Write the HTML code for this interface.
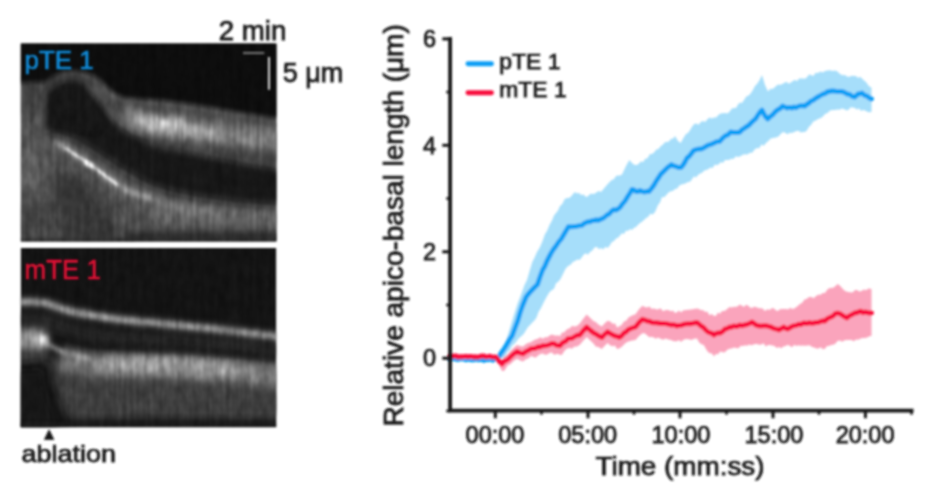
<!DOCTYPE html>
<html><head><meta charset="utf-8"><title>kymograph</title>
<style>html,body{margin:0;padding:0;background:#fff}svg{display:block}</style></head>
<body>
<svg width="948" height="486" viewBox="0 0 948 486" font-family="'Liberation Sans', sans-serif">
<defs>
<filter id="s" filterUnits="userSpaceOnUse" x="0" y="0" width="948" height="486"><feGaussianBlur stdDeviation="0.85"/></filter>
<filter id="s2" filterUnits="userSpaceOnUse" x="0" y="0" width="948" height="486"><feGaussianBlur stdDeviation="1.0"/></filter>
<filter id="b2" filterUnits="userSpaceOnUse" x="0" y="0" width="948" height="486"><feGaussianBlur stdDeviation="2"/></filter>
<filter id="b3" filterUnits="userSpaceOnUse" x="0" y="0" width="948" height="486"><feGaussianBlur stdDeviation="3"/></filter>
<filter id="b4" filterUnits="userSpaceOnUse" x="0" y="0" width="948" height="486"><feGaussianBlur stdDeviation="4"/></filter>
<filter id="b6" filterUnits="userSpaceOnUse" x="0" y="0" width="948" height="486"><feGaussianBlur stdDeviation="6"/></filter>
<filter id="b9" filterUnits="userSpaceOnUse" x="0" y="0" width="948" height="486"><feGaussianBlur stdDeviation="9"/></filter>
<filter id="edge" filterUnits="userSpaceOnUse" x="0" y="0" width="300" height="486" color-interpolation-filters="sRGB">
<feTurbulence type="fractalNoise" baseFrequency="0.3 0.015" numOctaves="2" seed="5" result="n"/>
<feColorMatrix in="n" type="matrix" values="1.6 0 0 0 -0.3  1.6 0 0 0 -0.3  1.6 0 0 0 -0.3  0 0 0 0 1" result="g"/>
<feComposite in="SourceGraphic" in2="g" operator="arithmetic" k1="0.3" k2="0.86" k3="0" k4="0" result="t"/>
<feTurbulence type="fractalNoise" baseFrequency="0.16 0.08" numOctaves="2" seed="11" result="n2"/>
<feColorMatrix in="n2" type="matrix" values="1.6 0 0 0 -0.3  1.6 0 0 0 -0.3  1.6 0 0 0 -0.3  0 0 0 0 1" result="g2"/>
<feComposite in="t" in2="g2" operator="arithmetic" k1="0.32" k2="0.85" k3="0" k4="0" result="tt"/>
<feComposite in="tt" in2="SourceGraphic" operator="in" result="t2"/>
<feGaussianBlur in="t2" stdDeviation="0.9"/></filter>
<clipPath id="c1"><rect x="20.7" y="43.4" width="255.8" height="198.2"/></clipPath>
<clipPath id="c2"><rect x="20.7" y="248" width="255.6" height="179.3"/></clipPath>
<linearGradient id="vstripe" x1="0" x2="1" y1="0" y2="0"></linearGradient>
</defs>
<rect width="948" height="486" fill="#fff"/>

<g filter="url(#edge)"><g clip-path="url(#c1)">
<rect x="20" y="43" width="258" height="200" fill="#505050"/>
<rect x="19" y="78" width="27" height="40" fill="#424242" filter="url(#b4)"/>
<rect x="19" y="150" width="27" height="36" fill="#5e5e5e" filter="url(#b6)"/>
<rect x="19" y="205" width="40" height="30" fill="#404040" filter="url(#b6)"/>
<path d="M52 172 L82 178 L112 212 L122 246 L62 246 Z" fill="#363636" filter="url(#b6)"/>
<path d="M150 212 L200 215 L290 220" stroke="#626262" stroke-width="19" fill="none" filter="url(#b4)"/>
<rect x="125" y="231.5" width="170" height="22" fill="#2a2a2a" filter="url(#b3)"/>
<rect x="15" y="238.5" width="120" height="8" fill="#2c2c2c" filter="url(#b2)"/>
<path d="M15.0 35.0 L285.0 35.0 L285.0 120.0 L250.0 114.0 L220.0 109.0 L190.0 104.0 L160.0 100.0 L140.0 99.0 L125.0 98.0 L114.0 93.0 L104.0 84.0 L95.0 76.0 L84.0 72.0 L75.0 71.0 L62.0 72.0 L52.0 77.0 L46.0 82.0 L15.0 83.0Z" fill="#111" filter="url(#b2)"/>
<path d="M47.0 92.0 L52.0 85.0 L58.0 81.0 L66.0 79.0 L75.0 78.5 L83.0 81.0 L90.0 88.0 L97.0 97.0 L106.0 108.0 L116.0 122.0 L132.0 134.0 L150.0 140.0 L165.0 144.0 L190.0 150.0 L220.0 157.0 L250.0 163.0 L285.0 169.0 L285.0 206.0 L240.0 203.0 L200.0 197.5 L170.0 191.5 L150.0 185.0 L135.0 177.0 L120.0 168.0 L105.0 158.0 L90.0 148.0 L75.0 139.0 L60.0 134.0 L47.0 133.0Z" fill="#161616" filter="url(#b4)"/>
<path d="M48.5 99.0 L54.0 92.0 L62.0 88.0 L75.0 87.0 L83.0 90.0 L91.0 100.0 L99.0 111.0 L107.0 123.0 L98.0 134.0 L75.0 131.0 L48.5 127.0Z" fill="#181818" filter="url(#b2)"/>
<path d="M47.0 90.0 C48.3 88.8 51.8 85.0 55.0 83.0 C58.2 81.0 62.5 78.9 66.0 78.0 C69.5 77.1 72.7 77.1 76.0 77.5 C79.3 77.9 82.8 78.8 86.0 80.5 C89.2 82.2 92.2 85.1 95.0 88.0 C97.8 90.9 100.3 94.7 103.0 98.0 C105.7 101.3 108.2 104.8 111.0 108.0 C113.8 111.2 118.5 115.5 120.0 117.0" stroke="#383838" stroke-width="4" fill="none" filter="url(#b2)"/>
<path d="M93.0 84.0 C94.2 85.5 97.5 89.8 100.0 93.0 C102.5 96.2 105.3 99.8 108.0 103.0 C110.7 106.2 113.3 109.5 116.0 112.0 C118.7 114.5 121.0 116.3 124.0 118.0 C127.0 119.7 132.3 121.3 134.0 122.0" stroke="#4c4c4c" stroke-width="11" fill="none" filter="url(#b3)"/>
<path d="M100.0 90.0 C102.0 91.7 107.8 97.7 112.0 100.0 C116.2 102.3 119.5 103.0 125.0 104.0 C130.5 105.0 137.5 105.2 145.0 106.0 C152.5 106.8 160.8 107.8 170.0 109.0 C179.2 110.2 188.3 111.3 200.0 113.0 C211.7 114.7 225.8 116.8 240.0 119.0 C254.2 121.2 277.5 124.8 285.0 126.0" stroke="#484848" stroke-width="5" fill="none" filter="url(#b2)"/>
<path d="M150.0 136.5 C152.2 137.0 156.3 138.2 163.0 139.4 C169.7 140.6 180.5 142.2 190.0 143.7 C199.5 145.2 210.0 146.6 220.0 148.1 C230.0 149.6 239.2 150.8 250.0 152.5 C260.8 154.2 279.2 157.1 285.0 158.1" stroke="#424242" stroke-width="15" fill="none" filter="url(#b4)"/>
<path d="M122.0 112.0 C123.5 112.8 126.3 114.9 131.0 117.0 C135.7 119.1 144.7 122.8 150.0 124.5 C155.3 126.2 156.3 126.0 163.0 127.0 C169.7 128.0 180.5 129.3 190.0 130.5 C199.5 131.7 210.0 132.8 220.0 134.0 C230.0 135.2 239.2 136.2 250.0 137.5 C260.8 138.8 279.2 141.2 285.0 142.0" stroke="#6c6c6c" stroke-width="20" fill="none" filter="url(#b4)"/>
<path d="M131.0 117.0 C134.2 118.2 144.7 122.8 150.0 124.5 C155.3 126.2 156.3 126.0 163.0 127.0 C169.7 128.0 180.5 129.3 190.0 130.5 C199.5 131.7 210.0 132.8 220.0 134.0 C230.0 135.2 239.2 136.2 250.0 137.5 C260.8 138.8 279.2 141.2 285.0 142.0" stroke="#808080" stroke-width="9" fill="none" filter="url(#b4)"/>
<path d="M131.0 117.0 C134.2 118.2 144.7 122.8 150.0 124.5 C155.3 126.2 156.3 126.0 163.0 127.0 C169.7 128.0 180.5 129.3 190.0 130.5 C199.5 131.7 215.0 133.4 220.0 134.0" stroke="#a4a4a4" stroke-width="9" fill="none" filter="url(#b4)"/>
<ellipse cx="165" cy="124" rx="24" ry="5" fill="#c4c4c4" filter="url(#b4)"/>
<ellipse cx="163" cy="124" rx="3" ry="2.5" fill="#fff" filter="url(#b2)"/>
<path d="M56.0 143.0 C57.5 143.8 61.8 146.1 65.0 148.0 C68.2 149.9 70.7 151.6 75.0 154.5 C79.3 157.4 86.3 161.9 91.0 165.2 C95.7 168.4 99.8 171.7 103.0 174.0 C106.2 176.3 107.5 177.5 110.0 179.3 C112.5 181.1 115.3 183.2 118.0 185.0 C120.7 186.8 123.5 188.6 126.3 190.0 C129.1 191.4 132.2 192.5 135.0 193.5 C137.8 194.5 140.2 195.0 143.0 196.0 C145.8 197.0 148.8 198.3 152.0 199.5 C155.2 200.7 158.0 201.7 162.0 203.0 C166.0 204.3 170.5 206.2 176.0 207.5 C181.5 208.8 188.5 209.8 195.0 210.5 C201.5 211.2 211.7 211.8 215.0 212.0" stroke="#7a7a7a" stroke-width="6" fill="none" filter="url(#b3)"/>
<path d="M56.0 143.0 C57.5 143.8 61.8 146.1 65.0 148.0 C68.2 149.9 70.7 151.6 75.0 154.5 C79.3 157.4 86.3 161.9 91.0 165.2 C95.7 168.4 99.8 171.7 103.0 174.0 C106.2 176.3 107.5 177.5 110.0 179.3 C112.5 181.1 115.3 183.2 118.0 185.0 C120.7 186.8 123.5 188.6 126.3 190.0 C129.1 191.4 132.2 192.5 135.0 193.5 C137.8 194.5 140.2 195.0 143.0 196.0 C145.8 197.0 150.5 198.9 152.0 199.5" stroke="#a8a8a8" stroke-width="3" fill="none" filter="url(#b2)"/>
<path d="M65.0 148.0 C66.7 149.1 70.7 151.6 75.0 154.5 C79.3 157.4 86.3 161.9 91.0 165.2 C95.7 168.4 99.8 171.7 103.0 174.0 C106.2 176.3 107.5 177.5 110.0 179.3 C112.5 181.1 116.7 184.1 118.0 185.0" stroke="#f4f4f4" stroke-width="2" fill="none" filter="url(#s2)"/>
<ellipse cx="89" cy="164" rx="5" ry="2.6" transform="rotate(34 89 164)" fill="#fff" filter="url(#s2)"/>
</g></g>
<g filter="url(#s)"><line x1="243" y1="53" x2="264.3" y2="53" stroke="#707070" stroke-width="2.2"/>
<line x1="269" y1="57" x2="269" y2="89.8" stroke="#e4e4e4" stroke-width="1.9"/></g>
<g filter="url(#edge)"><g clip-path="url(#c2)">
<rect x="20" y="247" width="258" height="182" fill="#131313"/>
<path d="M46 356 L290 372 L290 419 L64 419 Z" fill="#3e3e3e" filter="url(#b6)"/>
<path d="M60 386 L290 394 L290 414 L70 414 Z" fill="#3c3c3c" filter="url(#b4)"/>
<path d="M62.0 358.0 C67.2 359.1 81.5 363.2 93.0 364.5 C104.5 365.8 115.2 365.0 131.0 365.5 C146.8 366.0 162.3 365.8 188.0 367.5 C213.7 369.2 268.8 374.6 285.0 376.0" stroke="#787878" stroke-width="23" fill="none" filter="url(#b4)"/>
<path d="M100.0 363.0 C105.2 363.2 116.3 363.5 131.0 364.0 C145.7 364.5 169.8 365.0 188.0 366.0 C206.2 367.0 231.3 369.3 240.0 370.0" stroke="#9c9c9c" stroke-width="12" fill="none" filter="url(#b4)"/>
<path d="M46.0 344.0 C47.8 344.8 53.3 347.3 57.0 349.0 C60.7 350.7 62.0 352.2 68.0 354.0 C74.0 355.8 88.8 359.0 93.0 360.0" stroke="#999" stroke-width="3.5" fill="none" filter="url(#b2)"/>
<path d="M15 319 L46 321 L70 329 L93 335 L150 338.5 L207 343 L290 351" stroke="#232323" stroke-width="15" fill="none" filter="url(#b3)"/>
<rect x="13" y="329" width="34" height="24" fill="#858585" filter="url(#b4)"/>
<rect x="13" y="350" width="34" height="14" fill="#3c3c3c" filter="url(#b4)"/>
<ellipse cx="38" cy="339.5" rx="9" ry="6" fill="#b8b8b8" filter="url(#b4)"/>
<ellipse cx="43.8" cy="340" rx="3.2" ry="4.5" fill="#fff" filter="url(#b2)"/>
<path d="M15.0 301.5 C20.0 301.8 37.2 301.8 45.0 303.0 C52.8 304.2 54.0 306.9 62.0 309.0 C70.0 311.1 82.7 313.7 93.0 315.5 C103.3 317.3 113.5 318.8 124.0 320.0 C134.5 321.2 142.2 321.7 156.0 323.0 C169.8 324.3 185.5 325.6 207.0 328.0 C228.5 330.4 272.0 335.9 285.0 337.5" stroke="#747474" stroke-width="7" fill="none" filter="url(#b3)"/>
<path d="M15.0 301.5 C20.0 301.8 37.2 301.8 45.0 303.0 C52.8 304.2 54.0 306.9 62.0 309.0 C70.0 311.1 82.7 313.7 93.0 315.5 C103.3 317.3 113.5 318.8 124.0 320.0 C134.5 321.2 142.2 321.7 156.0 323.0 C169.8 324.3 185.5 325.6 207.0 328.0 C228.5 330.4 272.0 335.9 285.0 337.5" stroke="#a2a2a2" stroke-width="3.5" fill="none" filter="url(#b2)"/>
<path d="M15 366 L47 362 L50 385 L58 408 L70 434 L15 434 Z" fill="#191919" filter="url(#b6)"/>
<path d="M15 372 L42 370 L44 390 L50 410 L58 434 L15 434 Z" fill="#191919" filter="url(#b3)"/>
<rect x="15" y="422.5" width="270" height="12" fill="#1c1c1c" filter="url(#b2)"/>
</g></g>
<g filter="url(#s2)">
<text x="24.5" y="69.3" font-size="26.4" fill="#128cda" stroke="#128cda" stroke-width="0.6" textLength="69.2" lengthAdjust="spacingAndGlyphs">pTE 1</text>
<text x="24.6" y="278.5" font-size="28" fill="#e60f35" stroke="#e60f35" stroke-width="0.5" textLength="76.2" lengthAdjust="spacingAndGlyphs">mTE 1</text>
</g>
<g filter="url(#s)" fill="#161616" stroke="#161616" stroke-width="0.75">
<text x="218.7" y="40" font-size="27" textLength="67.6" lengthAdjust="spacingAndGlyphs">2 min</text>
<text x="282.7" y="82.3" font-size="27.6" textLength="60.6" lengthAdjust="spacingAndGlyphs">5 μm</text>
<text x="21.6" y="461.9" font-size="24.5" textLength="94.3" lengthAdjust="spacingAndGlyphs">ablation</text>
<path d="M49.1 429.8 L53.8 439.5 L44.4 439.5 Z"/>
</g>
<g filter="url(#s)">
<path d="M496.0 357.0 L498.0 354.3 L500.0 352.0 L502.0 348.7 L504.0 345.0 L506.2 340.4 L508.5 333.0 L510.8 325.4 L513.0 318.0 L515.4 310.5 L517.8 303.0 L519.9 297.8 L522.0 292.0 L524.5 284.9 L527.0 280.0 L529.6 271.0 L532.3 262.0 L534.6 257.4 L537.0 252.0 L539.8 247.5 L542.6 241.0 L544.8 234.6 L547.0 231.0 L549.5 225.1 L552.0 220.6 L554.0 215.4 L556.0 213.0 L558.0 210.6 L560.0 206.0 L562.3 204.0 L564.7 199.1 L567.0 198.0 L569.0 198.1 L571.0 196.6 L573.0 194.0 L575.0 192.0 L577.0 193.4 L579.0 192.8 L581.0 195.0 L583.5 194.4 L586.0 197.0 L588.0 196.3 L590.0 194.0 L592.0 193.7 L594.0 194.0 L596.3 192.5 L598.7 191.1 L601.0 192.0 L603.5 188.9 L606.0 186.0 L608.9 182.8 L611.7 180.0 L613.9 179.2 L616.0 176.0 L618.0 175.6 L620.0 175.5 L622.0 174.5 L624.0 170.2 L626.0 166.0 L629.4 160.0 L633.0 164.0 L635.0 165.1 L637.0 165.0 L639.0 163.4 L641.0 161.2 L643.0 162.2 L645.0 159.0 L647.5 158.2 L650.0 154.0 L652.1 153.9 L654.2 152.2 L656.4 149.6 L658.5 149.0 L660.6 146.3 L662.8 144.8 L664.9 142.3 L667.0 142.0 L669.0 141.4 L671.0 138.7 L673.0 138.7 L675.0 136.0 L678.0 141.0 L680.7 143.0 L683.4 138.1 L686.0 134.0 L688.0 133.1 L690.0 130.3 L692.0 126.7 L694.2 123.9 L696.4 123.4 L698.6 124.7 L700.8 122.0 L703.0 121.0 L705.2 121.9 L707.4 119.2 L709.6 117.4 L711.8 118.6 L714.0 117.4 L716.2 117.5 L718.4 114.9 L720.6 113.4 L722.8 113.3 L725.0 113.0 L727.2 113.6 L729.4 111.9 L731.6 108.7 L733.8 108.1 L736.0 108.0 L738.0 104.6 L740.0 102.5 L742.0 103.0 L744.0 100.0 L746.3 96.6 L748.7 95.5 L751.0 93.0 L753.0 89.8 L755.0 85.9 L757.0 84.0 L759.5 80.3 L762.0 75.0 L765.0 85.0 L768.0 91.5 L770.3 88.7 L772.7 89.0 L775.0 87.0 L777.5 84.7 L780.1 84.7 L782.6 84.0 L784.7 82.4 L786.8 82.0 L788.8 83.8 L790.9 82.6 L793.0 81.0 L795.0 79.8 L797.0 81.3 L799.0 78.5 L801.0 78.6 L803.0 78.5 L805.0 78.8 L807.0 77.2 L809.0 74.5 L811.0 75.0 L813.3 76.0 L815.7 72.7 L818.0 73.0 L820.3 71.5 L822.7 72.6 L825.0 71.0 L827.5 70.4 L830.1 70.3 L832.6 71.0 L835.1 70.5 L837.5 71.6 L840.0 74.0 L842.5 75.2 L844.9 74.9 L847.4 76.7 L849.6 76.8 L851.8 75.8 L854.0 76.0 L856.0 76.1 L858.0 78.0 L860.0 76.7 L862.0 78.4 L864.0 80.5 L866.0 82.0 L868.8 86.1 L871.5 87.8 L871.5 112.0 L869.4 112.2 L867.2 111.7 L865.1 110.6 L863.0 110.0 L861.0 111.0 L859.0 108.2 L857.0 109.8 L855.0 108.0 L852.8 107.5 L850.6 107.3 L848.4 109.9 L846.2 110.3 L844.0 109.0 L841.7 108.4 L839.4 109.8 L837.2 109.5 L834.9 109.9 L832.6 110.0 L830.1 110.4 L827.5 113.1 L825.0 114.0 L822.7 116.8 L820.3 118.3 L818.0 119.0 L815.7 120.4 L813.3 121.4 L811.0 125.0 L809.0 126.8 L807.0 130.2 L805.0 131.9 L803.0 132.0 L800.8 132.6 L798.6 130.8 L796.4 130.9 L794.2 131.9 L792.0 133.0 L789.7 132.7 L787.5 134.3 L785.2 132.8 L783.0 132.1 L780.7 134.0 L778.1 136.7 L775.6 137.5 L773.0 138.0 L770.7 138.6 L768.3 140.9 L766.0 143.0 L763.8 145.7 L761.5 144.4 L759.2 148.3 L757.0 148.0 L754.6 149.5 L752.2 152.8 L749.8 152.7 L747.4 154.4 L745.0 154.3 L742.7 154.7 L740.4 156.2 L738.0 157.0 L735.8 156.2 L733.5 159.0 L731.2 158.7 L729.0 160.0 L727.0 160.0 L725.0 160.0 L723.0 163.1 L721.0 162.1 L719.0 164.0 L716.9 165.2 L714.8 164.6 L712.7 167.9 L710.6 167.6 L708.5 169.0 L706.4 170.0 L704.3 170.5 L702.2 172.7 L700.1 173.6 L698.0 175.0 L696.0 177.5 L694.0 176.2 L692.0 179.2 L690.0 181.7 L688.0 182.0 L685.8 183.2 L683.7 183.9 L681.5 184.6 L679.3 185.4 L677.2 188.4 L675.0 189.0 L672.8 191.0 L670.7 191.2 L668.5 192.5 L666.3 194.9 L664.2 197.3 L662.0 197.0 L660.0 202.6 L658.0 205.0 L655.0 212.0 L652.7 214.4 L650.3 213.7 L648.0 217.0 L646.0 218.1 L644.0 219.9 L642.0 221.8 L640.0 223.0 L638.0 224.7 L636.0 227.0 L634.0 227.7 L632.0 230.1 L630.0 228.9 L628.0 231.0 L626.0 230.6 L624.0 233.9 L622.0 233.2 L620.0 235.5 L618.0 237.7 L616.0 238.5 L614.0 241.0 L611.9 242.1 L609.7 245.4 L607.6 248.0 L605.4 246.7 L603.2 249.5 L601.0 248.0 L599.0 249.2 L597.0 247.0 L594.7 247.3 L592.3 250.4 L590.0 252.0 L587.9 254.8 L585.9 253.3 L583.8 254.6 L581.7 257.6 L579.5 259.9 L577.2 259.5 L575.0 261.0 L572.8 262.0 L570.6 264.8 L568.4 265.8 L565.7 268.5 L563.0 274.0 L560.5 279.1 L558.0 282.0 L556.0 283.2 L554.0 288.7 L552.0 290.0 L549.4 292.2 L546.7 296.7 L543.9 302.1 L541.0 308.0 L538.6 311.8 L536.3 318.0 L534.2 320.8 L532.1 322.7 L530.1 325.1 L528.0 327.0 L525.8 330.6 L523.7 334.1 L521.5 336.0 L518.8 338.2 L516.0 342.0 L514.0 344.2 L512.0 345.7 L510.0 350.0 L507.4 352.3 L504.7 357.0 L502.5 358.1 L500.4 358.5 L498.2 358.4 L496.0 359.0Z" fill="#a6defa"/>
<path d="M496.0 356.0 L499.0 358.7 L502.0 360.3 L504.0 356.7 L506.0 355.4 L508.0 354.1 L510.0 351.6 L513.5 347.9 L517.0 344.9 L520.0 346.0 L523.0 346.6 L526.0 344.1 L528.7 342.8 L530.9 342.2 L533.0 340.7 L535.5 339.6 L538.0 338.7 L540.3 337.2 L542.7 338.7 L545.0 337.2 L547.3 337.3 L549.7 335.4 L552.0 334.5 L554.0 335.2 L556.0 335.8 L558.0 335.2 L560.0 336.3 L562.0 332.6 L564.0 332.4 L566.0 330.2 L568.0 328.8 L570.0 328.3 L572.0 325.8 L574.0 326.4 L576.9 326.0 L579.8 323.6 L583.0 319.1 L586.7 314.5 L590.0 317.8 L593.7 321.3 L595.9 321.9 L598.0 324.3 L601.8 326.6 L604.5 323.5 L607.6 320.8 L610.3 321.5 L613.0 324.0 L615.0 323.3 L617.0 327.4 L619.0 326.6 L621.5 324.9 L624.0 321.5 L626.2 320.8 L628.5 317.4 L632.0 315.6 L635.5 314.2 L639.0 309.3 L642.4 305.8 L644.7 307.0 L647.0 307.5 L649.4 306.6 L651.7 308.9 L653.8 308.5 L655.9 309.2 L658.0 309.4 L660.5 308.2 L663.1 311.3 L665.6 309.9 L668.3 310.1 L671.0 311.2 L673.0 310.4 L675.0 313.0 L677.0 312.2 L679.0 310.4 L681.0 312.6 L683.0 310.6 L685.9 310.0 L688.8 309.7 L691.4 309.6 L694.0 309.1 L697.0 308.5 L699.0 308.9 L701.0 310.2 L703.0 310.1 L705.0 312.0 L707.2 311.4 L709.5 315.2 L711.8 314.1 L714.0 316.0 L716.0 315.7 L718.0 312.5 L720.0 313.8 L722.0 311.0 L724.5 311.0 L727.0 309.2 L729.5 307.0 L731.6 307.6 L733.8 306.8 L735.9 307.0 L738.0 306.0 L740.0 304.6 L742.0 305.8 L744.0 306.9 L746.0 304.7 L748.0 305.6 L750.0 307.5 L752.0 307.9 L754.0 306.7 L756.0 307.1 L758.0 308.0 L760.3 308.2 L762.6 308.4 L765.0 310.9 L767.3 309.2 L769.6 310.0 L771.7 308.2 L773.7 308.3 L775.8 310.2 L777.9 311.0 L779.9 309.2 L782.0 309.0 L784.0 308.9 L786.1 309.0 L788.1 309.6 L790.2 307.8 L792.2 309.0 L794.3 308.6 L797.1 306.5 L800.0 304.0 L802.2 302.8 L804.5 299.6 L806.7 299.0 L809.0 297.1 L811.4 297.0 L813.7 298.2 L816.0 296.0 L818.2 294.7 L820.5 294.8 L822.8 293.1 L825.0 293.0 L827.0 290.0 L829.0 288.2 L831.0 288.0 L833.2 287.7 L835.3 286.3 L837.5 284.0 L839.8 285.6 L842.0 288.0 L844.4 290.5 L846.8 291.7 L848.8 292.0 L850.9 292.4 L852.9 292.2 L855.0 290.0 L857.0 290.0 L859.3 291.4 L861.6 291.0 L863.8 289.5 L866.1 290.2 L868.4 288.6 L871.5 289.0 L871.5 336.0 L870.0 336.0 L867.7 337.2 L865.3 338.1 L863.0 338.0 L860.7 338.4 L858.3 339.8 L856.0 339.5 L853.8 341.3 L851.5 340.0 L849.2 340.0 L847.0 340.0 L844.6 340.2 L842.2 341.7 L839.9 340.6 L837.5 341.0 L835.3 343.8 L833.2 344.8 L831.0 345.0 L829.0 346.0 L827.0 346.0 L825.0 348.8 L822.8 349.2 L820.7 347.2 L818.5 348.4 L816.3 348.6 L814.2 347.4 L812.0 347.0 L809.7 345.2 L807.4 345.4 L805.1 345.7 L802.8 345.4 L800.5 345.7 L798.4 345.2 L796.3 346.0 L794.2 344.8 L792.1 347.3 L790.0 346.0 L787.8 344.8 L785.6 346.1 L783.4 346.6 L781.2 348.3 L779.0 347.0 L776.8 348.1 L774.6 345.9 L772.4 345.6 L770.2 344.9 L768.0 345.0 L765.8 346.5 L763.6 343.2 L761.4 344.5 L759.2 344.8 L757.0 344.0 L755.0 344.1 L753.0 344.7 L751.0 345.2 L749.0 344.5 L747.0 345.7 L745.0 345.3 L743.0 346.0 L740.8 345.8 L738.5 348.3 L736.2 347.9 L734.0 347.6 L731.8 348.4 L729.5 348.8 L727.0 349.9 L724.5 352.4 L722.0 352.0 L720.0 351.5 L718.0 354.4 L716.0 353.8 L714.0 356.5 L712.0 353.6 L710.0 353.3 L708.0 352.0 L706.0 349.0 L703.8 345.1 L701.5 344.2 L699.2 342.6 L697.0 338.4 L694.0 338.8 L691.4 340.0 L688.8 339.2 L685.9 338.9 L683.0 339.9 L681.0 341.9 L679.0 340.0 L677.0 341.2 L675.0 341.2 L673.0 341.1 L671.0 340.0 L668.3 339.4 L665.6 338.4 L663.1 339.7 L660.5 338.8 L658.0 337.6 L655.9 338.8 L653.8 337.4 L651.7 336.8 L649.4 337.2 L647.0 335.2 L644.7 333.2 L642.4 333.3 L639.0 336.1 L635.5 340.1 L632.0 340.6 L628.5 341.6 L626.2 342.4 L624.0 344.5 L621.5 346.9 L619.0 348.6 L617.0 349.1 L615.0 345.5 L613.0 346.2 L610.3 345.4 L607.6 343.1 L604.5 345.9 L601.8 349.1 L598.0 346.8 L595.9 346.7 L593.7 343.8 L590.0 340.3 L586.7 337.0 L583.0 340.9 L579.8 344.8 L576.9 346.4 L574.0 346.7 L572.0 348.7 L570.0 348.1 L568.0 348.2 L566.0 349.2 L564.0 351.5 L562.0 354.8 L560.0 355.1 L558.0 353.7 L556.0 354.3 L554.0 354.7 L552.0 352.6 L549.7 352.8 L547.3 354.5 L545.0 354.7 L542.7 353.6 L540.3 354.1 L538.0 355.4 L535.5 357.8 L533.0 356.8 L530.9 355.9 L528.7 358.3 L526.0 359.3 L523.0 361.5 L520.0 360.5 L517.0 358.8 L513.5 361.1 L510.0 364.5 L508.0 365.1 L506.0 368.2 L504.0 371.1 L502.0 371.0 L499.0 365.0 L496.0 358.0Z" fill="#faa4bc"/>
<path d="M450.0 359.0 L452.0 358.3 L454.0 358.5 L456.0 359.0 L458.0 359.5 L460.0 358.7 L462.0 358.7 L464.0 358.9 L466.0 359.8 L468.0 358.9 L470.0 359.5 L472.0 359.9 L474.0 359.8 L476.0 359.0 L478.0 359.7 L480.0 359.6 L482.0 359.6 L484.0 360.5 L486.0 359.1 L488.0 359.8 L490.3 358.9 L492.7 360.2 L495.0 359.3 L498.5 357.0 L500.8 353.6 L503.0 350.5 L506.7 344.8 L509.5 339.7 L512.2 335.6 L515.0 328.0 L517.8 320.7 L520.0 313.0 L522.4 306.0 L526.2 296.7 L529.1 293.1 L532.0 290.0 L534.8 287.0 L537.5 284.4 L540.0 277.0 L542.6 270.0 L544.8 266.2 L547.0 261.0 L550.9 253.5 L553.5 249.3 L556.0 246.0 L558.6 242.0 L561.2 239.0 L565.0 232.5 L568.4 226.7 L571.2 226.7 L574.0 226.5 L576.9 226.2 L579.7 225.7 L581.9 225.3 L584.0 223.5 L587.9 221.6 L589.9 221.8 L592.0 220.6 L594.0 220.5 L596.0 219.7 L598.0 220.4 L600.0 219.5 L603.5 218.0 L607.0 215.0 L609.4 213.8 L611.7 211.0 L613.8 209.6 L615.9 210.0 L618.0 209.0 L620.0 207.3 L622.0 204.5 L625.0 201.0 L628.0 196.0 L630.0 193.0 L632.0 189.5 L634.0 190.0 L636.0 191.5 L638.0 191.5 L640.0 190.5 L642.5 191.6 L645.0 192.0 L647.0 191.3 L649.0 191.5 L651.5 188.5 L654.0 185.0 L656.5 180.6 L659.0 177.0 L661.0 173.9 L663.0 172.1 L665.0 170.0 L667.1 167.9 L669.3 166.2 L671.4 164.6 L673.7 165.8 L676.0 166.5 L678.5 167.5 L681.0 167.5 L683.0 165.1 L685.0 161.9 L687.0 158.0 L689.2 156.3 L691.4 153.5 L693.6 150.5 L696.1 149.7 L698.5 149.0 L701.0 149.0 L703.5 147.9 L706.0 146.4 L708.5 145.0 L711.2 144.3 L714.0 143.0 L716.8 141.6 L719.6 141.5 L722.3 138.3 L725.0 136.0 L727.9 134.7 L730.7 132.0 L732.9 132.4 L735.0 132.5 L737.5 132.6 L740.0 132.0 L742.0 129.7 L744.0 128.5 L746.0 127.0 L748.3 125.7 L750.7 123.2 L753.0 121.0 L755.5 118.8 L758.0 115.0 L760.0 112.0 L762.0 110.0 L765.0 116.0 L767.8 119.0 L770.2 116.6 L772.6 114.8 L775.0 112.0 L777.5 109.9 L780.1 108.5 L782.6 106.0 L784.8 107.1 L787.0 108.0 L789.5 107.4 L792.0 108.0 L794.0 106.9 L796.0 107.8 L798.0 106.5 L800.3 105.7 L802.7 105.7 L805.0 106.0 L807.0 104.1 L809.0 103.0 L811.0 101.0 L813.3 100.2 L815.5 98.3 L817.8 97.0 L820.4 95.5 L823.0 94.0 L825.0 93.6 L827.0 92.0 L829.0 91.5 L831.5 91.0 L834.0 91.0 L836.0 91.3 L838.0 91.6 L840.0 91.5 L842.3 91.6 L844.7 92.5 L847.0 94.0 L849.6 94.4 L852.2 96.4 L854.8 97.0 L858.0 94.0 L860.0 93.8 L862.0 93.0 L864.5 95.3 L867.0 96.0 L869.2 97.9 L871.5 99.0" fill="none" stroke="#0f9ff5" stroke-width="4.9" stroke-linejoin="round" stroke-linecap="round"/>
<path d="M450.0 356.4 L452.0 356.2 L454.0 356.0 L456.0 355.9 L458.0 357.1 L460.0 356.6 L462.0 356.8 L464.0 356.6 L466.0 356.3 L468.0 356.9 L470.0 356.5 L472.0 356.6 L474.0 357.0 L476.0 356.8 L478.0 357.1 L480.0 356.5 L482.0 356.0 L484.0 356.0 L486.0 356.9 L488.0 356.6 L490.0 356.2 L492.0 357.0 L494.0 357.1 L496.0 357.0 L499.0 361.0 L502.0 364.0 L504.0 361.5 L506.0 360.5 L508.0 359.4 L510.0 357.3 L513.5 354.0 L517.0 351.5 L520.0 353.0 L523.0 353.8 L526.0 351.5 L528.7 350.3 L530.9 348.7 L533.0 348.5 L535.5 348.2 L538.0 346.8 L540.3 347.0 L542.7 345.6 L545.0 345.7 L547.3 345.3 L549.7 344.5 L552.0 343.4 L554.0 343.6 L556.0 345.0 L558.0 345.6 L560.0 345.7 L562.0 343.2 L564.0 342.0 L566.0 341.0 L568.0 338.7 L570.0 338.4 L572.0 338.3 L574.0 337.0 L576.9 335.3 L579.8 335.0 L583.0 331.0 L586.7 327.0 L590.0 330.0 L593.7 333.0 L595.9 334.0 L598.0 335.5 L601.8 337.6 L604.5 334.5 L607.6 331.8 L610.3 333.6 L613.0 335.0 L615.0 336.0 L617.0 336.2 L619.0 337.6 L621.5 335.9 L624.0 333.0 L626.2 331.8 L628.5 329.4 L632.0 328.0 L635.5 327.0 L639.0 322.5 L642.4 319.3 L644.7 319.8 L647.0 321.0 L649.4 321.2 L651.7 322.5 L653.8 322.9 L655.9 322.7 L658.0 323.0 L660.5 323.5 L663.1 323.4 L665.6 323.6 L668.3 324.1 L671.0 325.0 L673.0 324.6 L675.0 325.1 L677.0 326.0 L679.0 325.4 L681.0 325.4 L683.0 324.5 L685.9 323.9 L688.8 323.6 L691.4 323.7 L694.0 323.0 L697.0 322.5 L699.0 324.1 L701.0 326.1 L703.0 327.0 L705.5 329.7 L708.0 332.0 L710.0 332.7 L712.0 333.4 L714.0 335.0 L716.0 333.6 L718.0 332.9 L720.0 333.0 L722.5 331.6 L725.0 329.0 L727.2 328.6 L729.5 327.0 L731.6 327.2 L733.8 325.9 L735.9 326.5 L738.0 326.0 L740.0 325.0 L742.0 325.8 L744.0 325.0 L746.0 324.8 L748.0 324.0 L750.0 323.2 L752.0 322.0 L754.0 323.4 L756.0 325.0 L758.5 325.8 L761.0 326.1 L763.5 325.6 L766.0 325.7 L768.5 326.4 L771.0 327.0 L773.0 328.1 L775.0 328.8 L777.0 329.1 L779.0 330.0 L781.5 328.4 L784.0 327.0 L786.0 328.7 L788.0 329.0 L790.1 327.5 L792.2 326.3 L794.3 325.6 L796.4 325.4 L798.6 324.2 L800.7 324.7 L802.9 323.2 L805.0 323.0 L807.2 323.6 L809.4 322.6 L811.6 323.3 L813.8 323.0 L816.0 322.5 L818.2 322.5 L820.5 321.3 L822.8 320.8 L825.0 321.0 L827.0 318.9 L829.0 317.8 L831.0 317.0 L833.2 315.9 L835.3 313.6 L837.5 313.0 L839.8 313.6 L842.0 315.0 L844.4 316.6 L846.8 318.0 L848.9 316.1 L850.9 315.1 L853.0 314.0 L855.0 312.8 L857.0 312.7 L859.0 311.7 L861.0 311.2 L863.0 312.7 L865.0 312.0 L867.2 312.5 L869.3 313.0 L871.5 313.0" fill="none" stroke="#f8103e" stroke-width="4.9" stroke-linejoin="round" stroke-linecap="round"/>
<line x1="468" y1="63.8" x2="491.5" y2="63.8" stroke="#0f9ff5" stroke-width="4.9" stroke-linecap="round"/>
<line x1="468" y1="92.7" x2="491.5" y2="92.7" stroke="#f8103e" stroke-width="4.9" stroke-linecap="round"/>
</g>
<g filter="url(#s)" fill="#161616" stroke="#161616" stroke-width="0.75">
<text x="499.2" y="68.6" font-size="22.8" textLength="61.3" lengthAdjust="spacingAndGlyphs">pTE 1</text>
<text x="499.2" y="97.1" font-size="22.8" textLength="67.5" lengthAdjust="spacingAndGlyphs">mTE 1</text>
<path d="M450.1 37 V410.6 H913.5" fill="none" stroke="#161616" stroke-width="3.8" stroke-linejoin="miter"/>
<line x1="442.3" y1="38.9" x2="450" y2="38.9" stroke="#161616" stroke-width="3"/>
<text x="436" y="47.0" font-size="23.5" text-anchor="end">6</text>
<line x1="442.3" y1="145.3" x2="450" y2="145.3" stroke="#161616" stroke-width="3"/>
<text x="436" y="153.5" font-size="23.5" text-anchor="end">4</text>
<line x1="442.3" y1="251.8" x2="450" y2="251.8" stroke="#161616" stroke-width="3"/>
<text x="436" y="259.9" font-size="23.5" text-anchor="end">2</text>
<line x1="442.3" y1="358.2" x2="450" y2="358.2" stroke="#161616" stroke-width="3"/>
<text x="436" y="366.4" font-size="23.5" text-anchor="end">0</text>
<line x1="446.3" y1="92.1" x2="450" y2="92.1" stroke="#161616" stroke-width="2.6"/>
<line x1="446.3" y1="198.5" x2="450" y2="198.5" stroke="#161616" stroke-width="2.6"/>
<line x1="446.3" y1="305.0" x2="450" y2="305.0" stroke="#161616" stroke-width="2.6"/>
<line x1="446.3" y1="411.0" x2="450" y2="411.0" stroke="#161616" stroke-width="2.6"/>
<line x1="495.3" y1="410.6" x2="495.3" y2="418.2" stroke="#161616" stroke-width="3"/>
<text x="465.6" y="442.8" font-size="23.5" textLength="58.8" lengthAdjust="spacingAndGlyphs">00:00</text>
<line x1="588.0" y1="410.6" x2="588.0" y2="418.2" stroke="#161616" stroke-width="3"/>
<text x="558.3" y="442.8" font-size="23.5" textLength="58.8" lengthAdjust="spacingAndGlyphs">05:00</text>
<line x1="680.0" y1="410.6" x2="680.0" y2="418.2" stroke="#161616" stroke-width="3"/>
<text x="651.5" y="442.8" font-size="23.5" textLength="58.8" lengthAdjust="spacingAndGlyphs">10:00</text>
<line x1="773.0" y1="410.6" x2="773.0" y2="418.2" stroke="#161616" stroke-width="3"/>
<text x="744.5" y="442.8" font-size="23.5" textLength="58.8" lengthAdjust="spacingAndGlyphs">15:00</text>
<line x1="865.4" y1="410.6" x2="865.4" y2="418.2" stroke="#161616" stroke-width="3"/>
<text x="835.7" y="442.8" font-size="23.5" textLength="58.8" lengthAdjust="spacingAndGlyphs">20:00</text>
<line x1="541.5" y1="410.6" x2="541.5" y2="414.6" stroke="#161616" stroke-width="2.6"/>
<line x1="634.0" y1="410.6" x2="634.0" y2="414.6" stroke="#161616" stroke-width="2.6"/>
<line x1="726.5" y1="410.6" x2="726.5" y2="414.6" stroke="#161616" stroke-width="2.6"/>
<line x1="819.0" y1="410.6" x2="819.0" y2="414.6" stroke="#161616" stroke-width="2.6"/>
<line x1="911.5" y1="410.6" x2="911.5" y2="414.6" stroke="#161616" stroke-width="2.6"/>
<text x="595.5" y="474.5" font-size="26.5" textLength="169" lengthAdjust="spacingAndGlyphs">Time (mm:ss)</text>
<text transform="translate(403.2 426.5) rotate(-90)" font-size="27.5" textLength="402.3" lengthAdjust="spacingAndGlyphs">Relative apico-basal length (μm)</text>
</g>
</svg></body></html>
